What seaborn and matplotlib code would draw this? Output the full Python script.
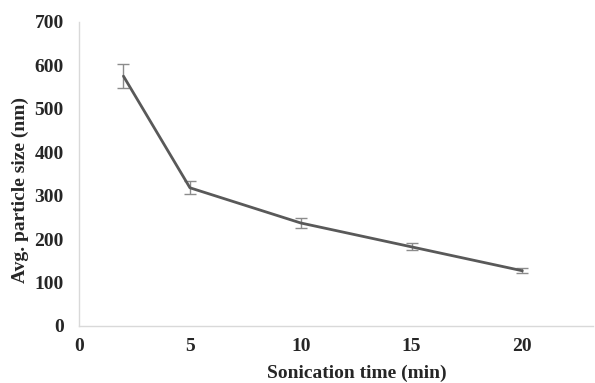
import matplotlib
matplotlib.use("Agg")
import matplotlib.pyplot as plt
import seaborn as sns
import pandas as pd

time_min = [2, 5, 10, 15, 20]
size_nm = [575, 318, 237, 182, 127]
err_nm = [28, 15, 12, 8, 6]

sns.set_style("white")
plt.rcParams['font.family'] = ['Liberation Serif', 'DejaVu Serif']

df = pd.DataFrame({"t": time_min, "s": size_nm})
fig = plt.figure(figsize=(5.95, 3.83), dpi=100)
ax = fig.add_axes([0.133, 0.149, 0.864, 0.794])

ax.errorbar(time_min, size_nm, yerr=err_nm, fmt='none', ecolor='#8c8c8c',
            elinewidth=1.0, capsize=4.5, capthick=1.0, zorder=2)
sns.lineplot(data=df, x="t", y="s", ax=ax, color='#595959', linewidth=2.0, zorder=3)

ax.set_xlim(0, 23.2)
ax.set_ylim(0, 700)
ax.set_xticks([0, 5, 10, 15, 20])
ax.set_yticks(range(0, 701, 100))
ax.tick_params(axis='y', length=0, labelsize=14, pad=11)
ax.tick_params(axis='x', length=0, labelsize=14, pad=9)
for lab in ax.get_xticklabels() + ax.get_yticklabels():
    lab.set_fontweight('bold')
ax.set_xlabel("Sonication time (min)", fontsize=14, fontweight='bold', va='center')
ax.set_ylabel("Avg. particle size (nm)", fontsize=14, fontweight='bold', va='center')
ax.xaxis.set_label_coords(0.541, -0.155)
ax.yaxis.set_label_coords(-0.115, 0.447)
for s in ['top', 'right']:
    ax.spines[s].set_visible(False)
for s in ['left', 'bottom']:
    ax.spines[s].set_color('#d9d9d9')
    ax.spines[s].set_linewidth(1.0)

fig.savefig("out.png", dpi=100)
